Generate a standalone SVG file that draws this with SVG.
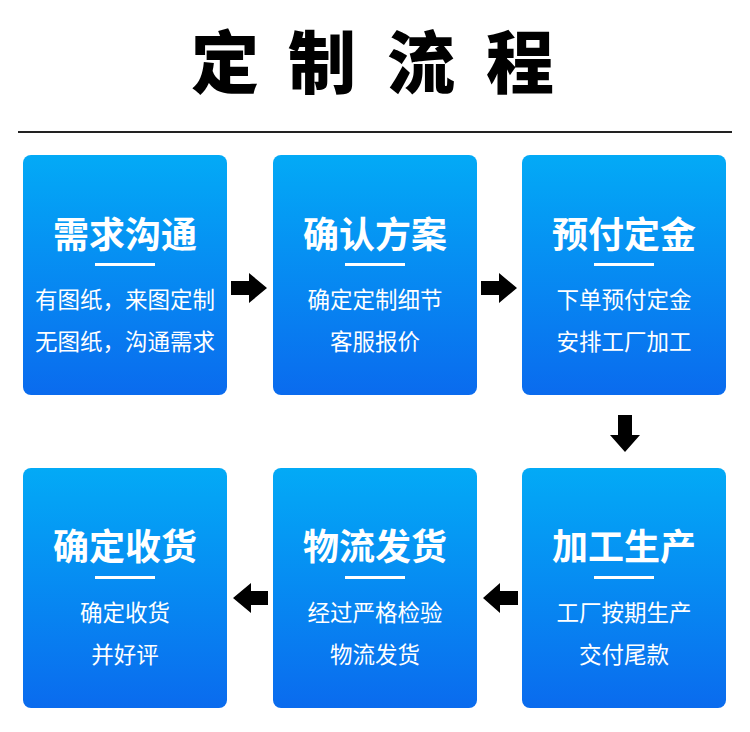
<svg xmlns="http://www.w3.org/2000/svg" width="750" height="732" viewBox="0 0 750 732">
<defs>
<linearGradient id="bg" x1="0" y1="0" x2="0" y2="1">
<stop offset="0" stop-color="#03AAF6"/>
<stop offset="1" stop-color="#0A6BEE"/>
</linearGradient>
<style>
.box{fill:url(#bg)}
.h{font-family:"Noto Sans CJK SC","Noto Sans",sans-serif;font-weight:900;font-size:68px;fill:#000;text-anchor:middle}
.t{font-family:"Noto Sans CJK SC","Noto Sans",sans-serif;font-weight:700;font-size:36px;fill:#fff;text-anchor:middle}
.s{font-family:"Noto Sans CJK SC","Noto Sans",sans-serif;font-weight:400;font-size:22.5px;fill:#fff;text-anchor:middle}
.u{fill:#fff}
.a{fill:#000}
</style>
</defs>
<rect width="750" height="732" fill="#fff"/>
<g id="title">
<text class="h" x="225" y="88">定</text>
<text class="h" x="322" y="88">制</text>
<text class="h" x="421" y="88">流</text>
<text class="h" x="520" y="88">程</text>
</g>
<rect x="18" y="131" width="714" height="2" fill="#222"/>

<g id="n1">
<rect class="box" x="23" y="155" width="204" height="240" rx="8"/>
<text class="t" x="125" y="248">需求沟通</text>
<rect class="u" x="95" y="263" width="60" height="3"/>
<text class="s" x="125" y="308">有图纸，来图定制</text>
<text class="s" x="125" y="350">无图纸，沟通需求</text>
</g>
<g id="n2">
<rect class="box" x="273" y="155" width="204" height="240" rx="8"/>
<text class="t" x="375" y="248">确认方案</text>
<rect class="u" x="345" y="263" width="60" height="3"/>
<text class="s" x="375" y="308">确定定制细节</text>
<text class="s" x="375" y="350">客服报价</text>
</g>
<g id="n3">
<rect class="box" x="522" y="155" width="204" height="240" rx="8"/>
<text class="t" x="624" y="248">预付定金</text>
<rect class="u" x="594" y="263" width="60" height="3"/>
<text class="s" x="624" y="308">下单预付定金</text>
<text class="s" x="624" y="350">安排工厂加工</text>
</g>
<g id="n4">
<rect class="box" x="522" y="468" width="204" height="240" rx="8"/>
<text class="t" x="624" y="560">加工生产</text>
<rect class="u" x="594" y="576" width="60" height="3"/>
<text class="s" x="624" y="621">工厂按期生产</text>
<text class="s" x="624" y="663">交付尾款</text>
</g>
<g id="n5">
<rect class="box" x="273" y="468" width="204" height="240" rx="8"/>
<text class="t" x="375" y="560">物流发货</text>
<rect class="u" x="345" y="576" width="60" height="3"/>
<text class="s" x="375" y="621">经过严格检验</text>
<text class="s" x="375" y="663">物流发货</text>
</g>
<g id="n6">
<rect class="box" x="23" y="468" width="204" height="240" rx="8"/>
<text class="t" x="125" y="560">确定收货</text>
<rect class="u" x="95" y="576" width="60" height="3"/>
<text class="s" x="125" y="621">确定收货</text>
<text class="s" x="125" y="663">并好评</text>
</g>

<g id="connectors">
<polygon class="a" points="231,281 249,281 249,273 267,288 249,303 249,295 231,295"/>
<polygon class="a" points="481,281 499,281 499,273 517,288 499,303 499,295 481,295"/>
<polygon class="a" points="618,415 632,415 632,435 640,435 625,452 610,435 618,435"/>
<polygon class="a" points="518,591 500,591 500,583 483,598 500,613 500,605 518,605"/>
<polygon class="a" points="268,591 251,591 251,583 233,598 251,613 251,605 268,605"/>
</g>
</svg>
